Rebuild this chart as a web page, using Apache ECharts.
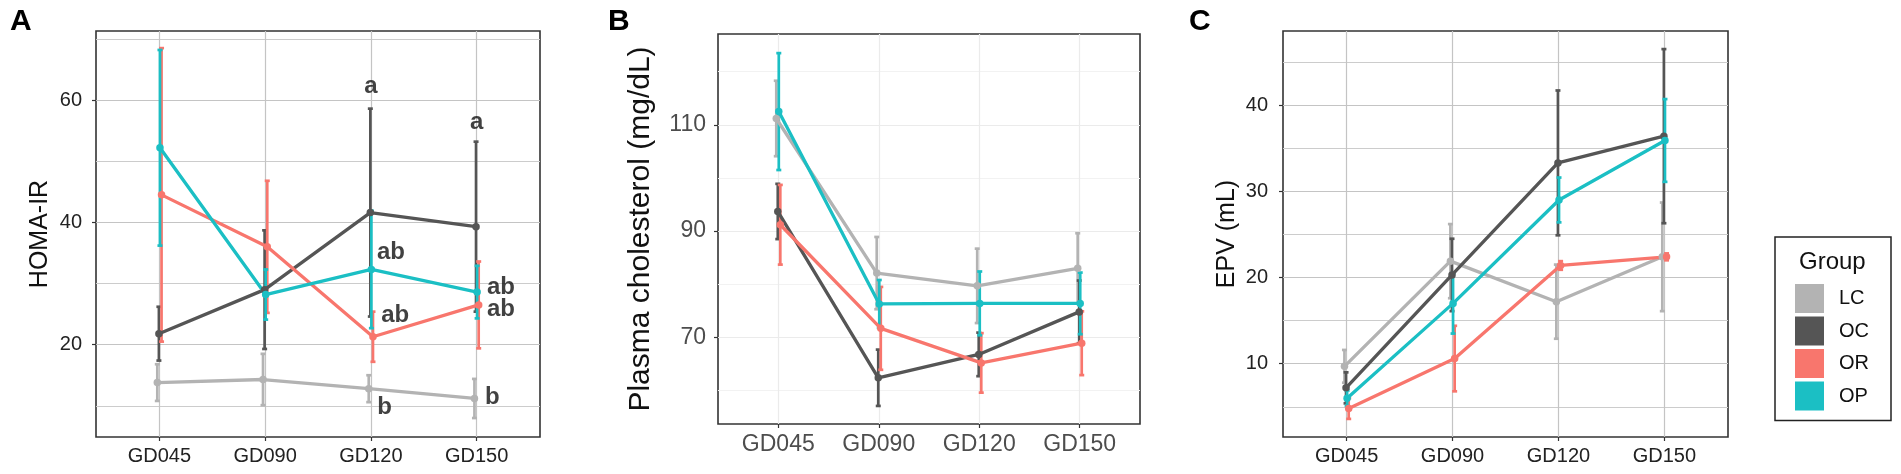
<!DOCTYPE html>
<html>
<head>
<meta charset="utf-8">
<script src="https://cdn.jsdelivr.net/npm/echarts@6/dist/echarts.min.js"></script>
<style>
  html, body { margin: 0; padding: 0; background: #fff; }
  #chart { width: 1901px; height: 474px; }
</style>
</head>
<body>
<div id="chart"></div>
<script>
var categories = ['GD045', 'GD090', 'GD120', 'GD150'];
var groups = ['LC', 'OC', 'OR', 'OP'];

// A: HOMA-IR (mean, SE)
var homaLC = [13.8, 14.3, 12.8, 11.2];
var homaLCse = [3.0, 4.2, 2.2, 3.2];
var homaOC = [21.8, 29.0, 41.6, 39.3];
var homaOCse = [4.4, 9.7, 17.0, 13.9];
var homaOR = [44.5, 36.0, 21.3, 26.5];
var homaORse = [24.0, 10.8, 4.1, 7.1];
var homaOP = [52.2, 28.2, 32.3, 28.6];
var homaOPse = [16.0, 4.1, 9.6, 4.3];

// B: plasma cholesterol
var cholLC = [111.2, 82.1, 79.7, 83.0];
var cholLCse = [7.1, 6.8, 7.0, 6.6];
var cholOC = [93.7, 62.4, 66.8, 74.8];
var cholOCse = [5.2, 5.3, 4.1, 5.9];
var cholOR = [91.2, 71.7, 65.2, 68.9];
var cholORse = [7.5, 7.8, 5.6, 6.0];
var cholOP = [112.5, 76.3, 76.4, 76.4];
var cholOPse = [11.0, 4.5, 6.0, 5.8];

// C: EPV
var epvLC = [9.7, 21.9, 17.2, 22.4];
var epvLCse = [1.9, 4.3, 4.3, 6.3];
var epvOC = [7.2, 20.3, 33.3, 36.4];
var epvOCse = [1.8, 4.2, 8.4, 10.1];
var epvOR = [4.8, 10.6, 21.4, 22.4];
var epvORse = [1.2, 3.8, 0.5, 0.4];
var epvOP = [6.0, 17.0, 29.0, 35.9];
var epvOPse = [0.9, 3.5, 2.6, 4.8];

// significance letters on panel A
var letterText = ['a', 'a', 'ab', 'ab', 'ab', 'ab', 'b', 'b'];
var letterCat = [2, 3, 2.19, 2.23, 3.23, 3.23, 2.13, 3.15];
var letterY = [62.2, 56.3, 35.1, 24.8, 29.4, 25.7, 9.8, 11.4];

var colors = { LC: '#b3b3b3', OC: '#555555', OR: '#f8766d', OP: '#1bbfc4' };
var dodge = { LC: -0.02, OC: -0.005, OR: 0.02, OP: 0.005 };
var font = '"Liberation Sans", Arial, sans-serif';

var panels = [
  { mean: [homaLC, homaOC, homaOR, homaOP], se: [homaLCse, homaOCse, homaORse, homaOPse] },
  { mean: [cholLC, cholOC, cholOR, cholOP], se: [cholLCse, cholOCse, cholORse, cholOPse] },
  { mean: [epvLC, epvOC, epvOR, epvOP], se: [epvLCse, epvOCse, epvORse, epvOPse] }
];

function xAxisFor(idx, fontSize, color, margin, gridColor) {
  return {
    type: 'value', gridIndex: idx, min: -0.6, max: 3.6,
    axisLine: { show: false, onZero: false },
    axisTick: { show: true, customValues: [0, 1, 2, 3], length: 4, lineStyle: { color: '#333', width: 1.2 } },
    axisLabel: {
      customValues: [0, 1, 2, 3], margin: margin, fontSize: fontSize, color: color, fontFamily: font,
      formatter: function (v) { return categories[Math.round(v)]; }
    },
    splitLine: { show: true, lineStyle: { color: gridColor, width: 1.2 } }
  };
}

function yAxisPair(idx, min, max, major, minor, opt) {
  return [{
    type: 'value', gridIndex: idx, min: min, max: max,
    name: opt.name, nameLocation: 'middle', nameGap: opt.nameGap, nameRotate: 90,
    nameTextStyle: { fontSize: opt.nameSize, color: '#111', fontFamily: font },
    axisLine: { show: false, onZero: false },
    axisTick: { show: true, customValues: major, length: 4, lineStyle: { color: '#333', width: 1.2 } },
    axisLabel: { customValues: major, margin: opt.margin, fontSize: opt.fontSize, color: opt.color, fontFamily: font },
    splitLine: { show: true, lineStyle: { color: opt.gridColor, width: 1.2 } }
  }, {
    type: 'value', gridIndex: idx, min: min, max: max,
    axisLine: { show: false, onZero: false },
    axisTick: { show: false, customValues: minor },
    axisLabel: { show: false },
    splitLine: { show: true, lineStyle: { color: opt.minorColor, width: opt.minorWidth } }
  }];
}

function renderErr(color, width) {
  return function (params, api) {
    var x = api.value(0), lo = api.value(1), hi = api.value(2);
    var pHi = api.coord([x, hi]);
    var pLo = api.coord([x, lo]);
    var hw = 2.5;
    var st = { stroke: color, lineWidth: width };
    return {
      type: 'group',
      children: [
        { type: 'line', shape: { x1: pHi[0], y1: pHi[1], x2: pLo[0], y2: pLo[1] }, style: st },
        { type: 'line', shape: { x1: pHi[0] - hw, y1: pHi[1], x2: pHi[0] + hw, y2: pHi[1] }, style: st },
        { type: 'line', shape: { x1: pLo[0] - hw, y1: pLo[1], x2: pLo[0] + hw, y2: pLo[1] }, style: st }
      ]
    };
  };
}

var series = [];
panels.forEach(function (p, pi) {
  groups.forEach(function (g, gi) {
    var pts = p.mean[gi].map(function (v, i) { return [i + dodge[g], v]; });
    series.push({
      name: g, type: 'line', xAxisIndex: pi, yAxisIndex: pi * 2,
      data: pts, symbol: 'circle', symbolSize: 7.5, z: 4,
      itemStyle: { color: colors[g] },
      lineStyle: { color: colors[g], width: 3.3 },
      emphasis: { disabled: true }, animation: false
    });
  });
});
panels.forEach(function (p, pi) {
  groups.forEach(function (g, gi) {
    var bars = p.mean[gi].map(function (v, i) {
      return [i + dodge[g], v - p.se[gi][i], v + p.se[gi][i]];
    });
    series.push({
      name: g, type: 'custom', xAxisIndex: pi, yAxisIndex: pi * 2,
      data: bars, renderItem: renderErr(colors[g], 2.7), z: 3,
      itemStyle: { color: colors[g] }, animation: false, silent: true
    });
  });
});
series.push({
  type: 'scatter', xAxisIndex: 0, yAxisIndex: 0, symbolSize: 0, z: 6, silent: true,
  data: letterText.map(function (t, i) { return [letterCat[i], letterY[i], t]; }),
  label: {
    show: true, position: 'inside', fontSize: 24, fontWeight: 'bold', color: '#111', fontFamily: font,
    formatter: function (d) { return d.value[2]; }
  },
  animation: false
});

var gridA = { left: 96, top: 31, width: 444, height: 406 };
var gridB = { left: 718, top: 34, width: 422, height: 390 };
var gridC = { left: 1283, top: 31, width: 445, height: 406 };
[gridA, gridB, gridC].forEach(function (g) {
  g.show = true; g.borderColor = '#333'; g.borderWidth = 1.6; g.backgroundColor = '#fff';
});

var option = {
  animation: false,
  title: [
    { text: 'A', left: 5, top: 2, textStyle: { fontSize: 30, fontWeight: 'bold', color: '#000', fontFamily: font } },
    { text: 'B', left: 603, top: 2, textStyle: { fontSize: 30, fontWeight: 'bold', color: '#000', fontFamily: font } },
    { text: 'C', left: 1184, top: 2, textStyle: { fontSize: 30, fontWeight: 'bold', color: '#000', fontFamily: font } },
    { text: 'Group', left: 1794, top: 245, textStyle: { fontSize: 24, fontWeight: 'normal', color: '#111', fontFamily: font } }
  ],
  legend: {
    data: groups, orient: 'vertical', left: 1775, top: 237,
    icon: 'rect', itemWidth: 29, itemHeight: 29, itemGap: 3.5,
    padding: [47, 22, 10, 20],
    borderColor: '#222', borderWidth: 1.5,
    selectedMode: false,
    textStyle: { fontSize: 20, color: '#111', fontFamily: font, padding: [0, 0, 0, 10] }
  },
  grid: [gridA, gridB, gridC],
  xAxis: [
    xAxisFor(0, 20, '#222', 9, '#c4c4c4'),
    xAxisFor(1, 23, '#4d4d4d', 9, '#ebebeb'),
    xAxisFor(2, 20, '#222', 9, '#c4c4c4')
  ],
  yAxis: [].concat(
    yAxisPair(0, 4.9, 71.3, [20, 40, 60], [10, 30, 50, 70],
      { name: 'HOMA-IR', nameGap: 43, nameSize: 25, margin: 14, fontSize: 20, color: '#222', gridColor: '#c4c4c4', minorColor: '#cccccc', minorWidth: 1 }),
    yAxisPair(1, 53.7, 127.1, [70, 90, 110], [60, 80, 100, 120],
      { name: 'Plasma cholesterol (mg/dL)', nameGap: 62, nameSize: 30, margin: 12, fontSize: 23, color: '#4d4d4d', gridColor: '#ebebeb', minorColor: '#f2f2f2', minorWidth: 1 }),
    yAxisPair(2, 1.5, 48.6, [10, 20, 30, 40], [5, 15, 25, 35, 45],
      { name: 'EPV (mL)', nameGap: 43, nameSize: 25, margin: 15, fontSize: 20, color: '#222', gridColor: '#c4c4c4', minorColor: '#cccccc', minorWidth: 1 })
  ),
  series: series
};

var myChart = echarts.init(document.getElementById('chart'));
myChart.setOption(option);
</script>
</body>
</html>
